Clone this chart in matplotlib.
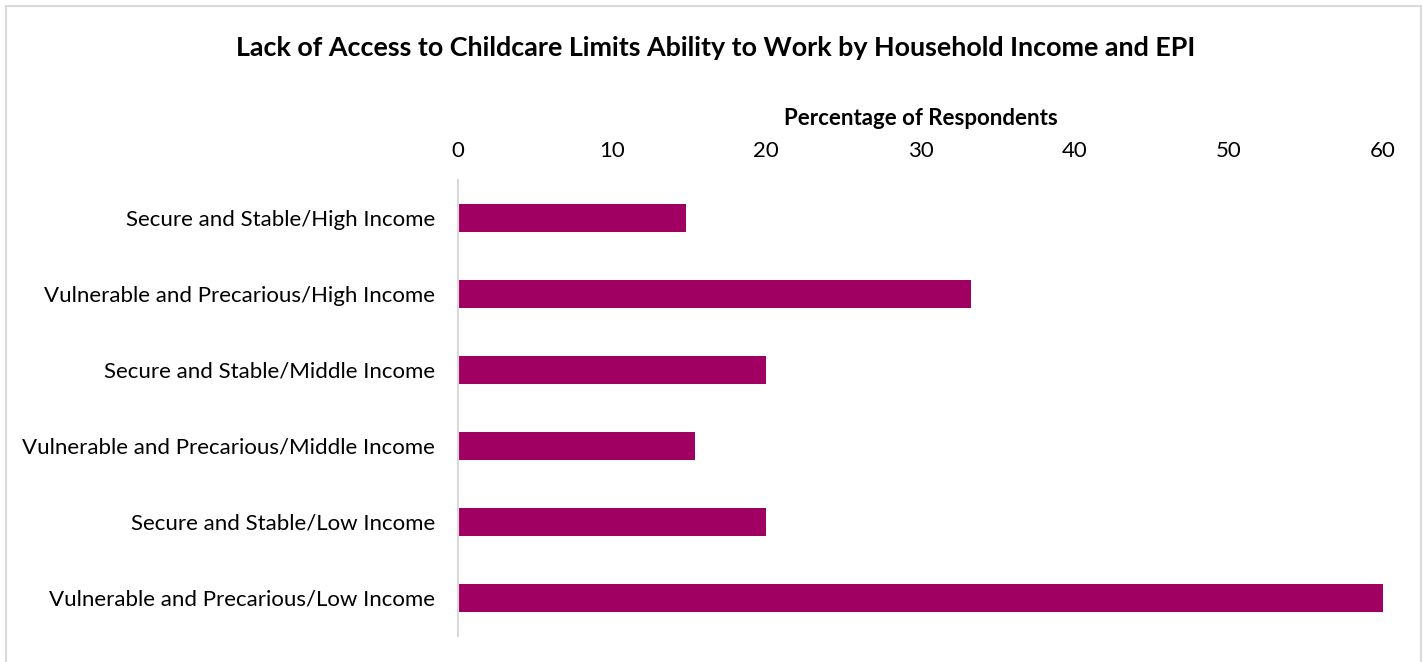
import matplotlib.pyplot as plt
from matplotlib.patches import Rectangle

# data
categories = [
    "Secure and Stable/High Income",
    "Vulnerable and Precarious/High Income",
    "Secure and Stable/Middle Income",
    "Vulnerable and Precarious/Middle Income",
    "Secure and Stable/Low Income",
    "Vulnerable and Precarious/Low Income",
]
values = [14.8, 33.3, 20.0, 15.4, 20.0, 60.0]
xticks = [0, 10, 20, 30, 40, 50, 60]

plt.rcParams['font.family'] = ['Lato', 'DejaVu Sans']

fig = plt.figure(figsize=(14.26, 6.62), dpi=100)
ax = fig.add_axes([0.3212, 0.0393, 0.6486, 0.6888])

ypos = list(range(len(categories)))
ax.barh(ypos, values, height=0.36, color='#A00061')
ax.set_ylim(len(categories) - 0.5, -0.5)
ax.set_xlim(0, 60)
ax.set_yticks(ypos)
ax.set_yticklabels(categories, fontsize=16, color='black')
ax.set_xticks(xticks)
ax.set_xticklabels([str(t) for t in xticks], fontsize=16, color='black')

ax.xaxis.tick_top()
ax.xaxis.set_label_position('top')
ax.set_xlabel('Percentage of Respondents', fontsize=16, fontweight='bold',
              color='black', labelpad=11.5)
ax.tick_params(axis='both', length=0)
ax.tick_params(axis='x', pad=13.5)
ax.tick_params(axis='y', pad=16.5)

for s in ['top', 'right', 'bottom']:
    ax.spines[s].set_visible(False)
ax.spines['left'].set_color('#d9d9d9')
ax.spines['left'].set_linewidth(1.5)

fig.text(0.5020, 0.927, 'Lack of Access to Childcare Limits Ability to Work by Household Income and EPI',
         ha='center', va='center', fontsize=19.4, fontweight='bold', color='black')

# chart frame
fig.patches.append(Rectangle((6 / 1426, -0.05), 1415 / 1426, 1.05 - 6 / 662,
                             transform=fig.transFigure, fill=False,
                             edgecolor='#d9d9d9', linewidth=1.5))

fig.savefig('out.png', dpi=100)
